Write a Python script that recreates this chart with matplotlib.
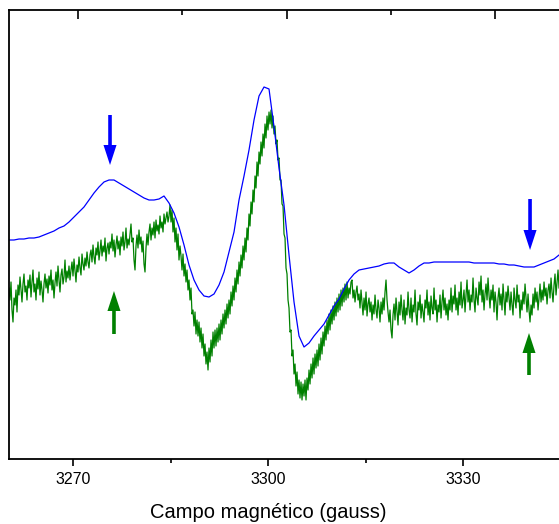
import numpy as np
import matplotlib
matplotlib.use("Agg")
import matplotlib.pyplot as plt

plt.rcParams['font.family'] = ['Liberation Sans', 'DejaVu Sans']

# ---- data (arbitrary intensity units) ----
campo_inicio = 3260.15
campo_fin = 3344.77

# blue spectrum (smooth)
senal_azul = [220, 220, 221, 221, 222, 222, 223, 225, 227, 229,
              232, 234, 238, 243, 248, 253, 260, 267, 273, 278,
              280, 280, 277, 274, 271, 268, 265, 262, 260, 260,
              261, 264, 257, 247, 233, 215, 195, 180, 170, 164,
              163, 166, 175, 188, 208, 228, 260, 284, 310, 340,
              364, 373, 371, 333, 292, 255, 205, 158, 124, 113,
              117, 124, 130, 136, 145, 154, 161, 171, 180, 186,
              190, 191, 192, 193, 194, 196, 197, 197, 193, 190,
              187, 190, 194, 197, 197, 198, 198, 198, 198, 198,
              198, 198, 198, 197, 197, 197, 197, 197, 196, 196,
              195, 195, 194, 193, 193, 193, 195, 197, 199, 201,
              205]

# green spectrum (noisy)
senal_verde = [
    172, 160, 178, 150, 138, 162, 155, 170, 148, 175, 165, 183, 170, 158, 176, 186, 168, 174, 160, 180,
    172, 185, 163, 178, 190, 168, 176, 160, 182, 171, 188, 165, 179, 170, 158, 176, 186, 172, 181, 167,
    184, 175, 190, 170, 180, 162, 177, 188, 174, 194, 180, 168, 185, 191, 176, 183, 200, 178, 189, 182,
    194, 180, 190, 198, 184, 201, 189, 178, 195, 188, 203, 192, 185, 206, 196, 190, 202, 194, 208, 198,
    192, 205, 210, 198, 215, 203, 196, 212, 205, 218, 200, 209, 220, 204, 214, 208, 222, 199, 212, 217,
    206, 218, 212, 226, 209, 220, 203, 215, 224, 211, 219, 205, 223, 214, 228, 210, 218, 232, 212, 221,
    215, 226, 236, 218, 222, 200, 190, 214, 225, 212, 230, 216, 223, 208, 219, 196, 188, 212, 226, 215,
    228, 236, 220, 232, 225, 238, 222, 240, 229, 235, 226, 244, 232, 238, 228, 246, 236, 242, 248, 238,
    244, 255, 238, 250, 228, 242, 218, 232, 210, 226, 200, 214, 204, 190, 206, 184, 196, 178, 190, 170,
    180, 160, 172, 146, 150, 134, 148, 126, 140, 124, 138, 118, 132, 112, 126, 104, 116, 96, 108, 90,
    112, 98, 120, 104, 128, 112, 130, 114, 132, 118, 136, 120, 140, 126, 146, 132, 150, 136, 156, 142,
    160, 146, 168, 154, 174, 160, 182, 168, 190, 176, 198, 184, 205, 192, 214, 200, 222, 208, 232, 220,
    246, 234, 258, 246, 270, 258, 284, 272, 298, 284, 308, 296, 318, 304, 326, 312, 336, 322, 344, 330,
    348, 336, 350, 332, 344, 326, 334, 316, 320, 300, 302, 280, 280, 256, 254, 226, 222, 192, 186, 160,
    152, 128, 130, 104, 110, 86, 96, 74, 88, 66, 80, 62, 78, 60, 76, 64, 80, 60, 82, 70,
    90, 76, 96, 82, 102, 86, 106, 92, 110, 94, 116, 100, 122, 106, 128, 114, 134, 120, 140, 126,
    146, 130, 150, 136, 154, 140, 158, 144, 162, 148, 166, 150, 170, 154, 172, 158, 176, 160, 178, 162,
    172, 166, 178, 180, 162, 170, 158, 168, 174, 160, 166, 152, 170, 158, 145, 162, 150, 168, 144, 156,
    162, 148, 158, 140, 155, 146, 165, 150, 142, 160, 152, 138, 158, 146, 162, 150, 168, 180, 160, 148,
    138, 150, 130, 122, 145, 156, 140, 162, 148, 135, 158, 145, 165, 150, 140, 160, 136, 152, 145, 168,
    150, 142, 162, 138, 155, 148, 170, 146, 135, 158, 150, 165, 142, 156, 148, 138, 160, 152, 170, 145,
    158, 140, 164, 152, 146, 172, 150, 160, 138, 155, 148, 165, 142, 158, 170, 150, 162, 145, 156, 140,
    160, 150, 172, 148, 164, 156, 175, 150, 162, 145, 168, 155, 178, 152, 160, 170, 148, 165, 180, 158,
    170, 150, 165, 158, 182, 160, 148, 172, 162, 155, 178, 165, 184, 158, 170, 150, 166, 176, 160, 182,
    165, 152, 170, 160, 175, 148, 168, 158, 140, 162, 172, 155, 166, 150, 176, 160, 145, 168, 158, 174,
    162, 150, 168, 155, 145, 172, 160, 152, 175, 158, 165, 142, 160, 150, 168, 156, 176, 162, 148, 166,
    150, 138, 155, 145, 166, 152, 172, 158, 168, 150, 162, 176, 158, 170, 160, 178, 164, 172, 156, 170,
    176, 162, 182, 168, 158, 175, 186, 165, 178, 190, 172]

campo_azul = np.linspace(campo_inicio, campo_fin, len(senal_azul))
campo_verde = np.linspace(campo_inicio, campo_fin, len(senal_verde))

ticks_inferiores = [3270, 3300, 3330]
ticks_menores = [3285, 3315]
ticks_sup_mayores = [3270.77, 3302.92, 3334.92]
ticks_sup_menores = [3286.77, 3318.92]

# arrows: (field, tail intensity, tip intensity)
flechas_azules = [(3275.69, 345, 295), (3340.31, 261, 210)]
flechas_verdes = [(3276.3, 126, 169), (3340.15, 85, 127)]

AZUL = '#0000ff'
VERDE = '#008000'

fig = plt.figure(figsize=(5.59, 5.24), dpi=100)
ax_left = 9 / 559
ax_right_px = 600
ax = fig.add_axes([ax_left, 65 / 524, (ax_right_px - 9) / 559, 449 / 524])
xmax = campo_inicio + (ax_right_px - 9) / 6.5
ax.set_xlim(campo_inicio, xmax)
ax.set_ylim(1, 450)

ax.plot(campo_verde, senal_verde, color=VERDE, lw=0.9)
ax.plot(campo_azul, senal_azul, color=AZUL, lw=0.9)

style = 'simple,head_length=14.4,head_width=9.4,tail_width=2.6'
for x, y0, y1 in flechas_azules:
    ax.annotate('', xy=(x, y1), xytext=(x, y0),
                arrowprops=dict(arrowstyle=style, mutation_scale=1,
                                fc=AZUL, ec='none', shrinkA=0, shrinkB=0))
for x, y0, y1 in flechas_verdes:
    ax.annotate('', xy=(x, y1), xytext=(x, y0),
                arrowprops=dict(arrowstyle=style, mutation_scale=1,
                                fc=VERDE, ec='none', shrinkA=0, shrinkB=0))

for s in ax.spines.values():
    s.set_linewidth(1.3)

ax.set_yticks([])
ax.set_xticks(ticks_inferiores)
ax.set_xticks(ticks_menores, minor=True)
ax.tick_params(axis='x', which='major', direction='out', length=5, width=1.2,
               labelsize=11.5, pad=4, top=False)
ax.tick_params(axis='x', which='minor', direction='out', length=3, width=1.2,
               top=False)

axt = ax.twiny()
axt.set_xlim(ax.get_xlim())
axt.set_xticks(ticks_sup_mayores)
axt.set_xticks(ticks_sup_menores, minor=True)
axt.tick_params(axis='x', which='major', direction='in', length=6.5, width=1.2,
                labeltop=False)
axt.tick_params(axis='x', which='minor', direction='in', length=3.6, width=1.2)
for s in axt.spines.values():
    s.set_visible(False)

fig.text(268 / 559, 1 - 513 / 524, 'Campo magnético (gauss)', ha='center',
         va='center', fontsize=14.5)

fig.savefig('out.png', dpi=100)
